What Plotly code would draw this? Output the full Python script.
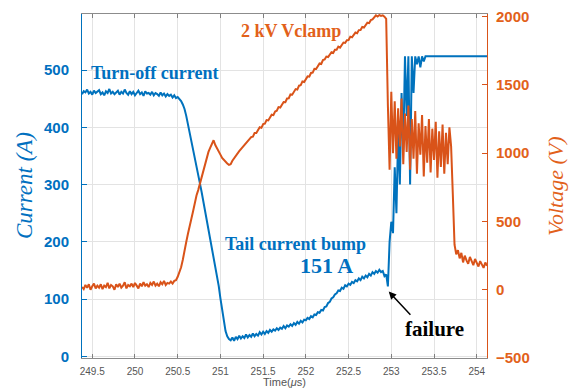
import numpy as np
import plotly.graph_objects as go

# Sampling grid: 249.38 us to 254.12 us, 20 ns step
t_start = 249.38
t_step = 0.02

# Collector current (A), left axis
current_a = [
    458, 463, 461, 466, 459, 462, 457, 464, 460, 462,
    465, 458, 461, 456, 463, 460, 467, 459, 462, 458,
    461, 464, 457, 462, 459, 466, 460, 457, 463, 458,
    462, 456, 460, 464, 458, 461, 455, 463, 459, 460,
    457, 462, 456, 460, 458, 455, 461, 456, 459, 454,
    458, 455, 457, 452, 456, 451, 453, 450, 446, 440,
    432, 420, 406, 392, 378, 363, 348, 333, 318, 302,
    287, 271, 255, 239, 223, 207, 191, 175, 159, 142,
    123, 101, 80, 60, 44, 35, 30, 28, 33, 27,
    34, 30, 36, 31, 35, 32, 38, 33, 37, 34,
    40, 35, 39, 36, 42, 38, 43, 39, 44, 41,
    46, 43, 47, 45, 49, 46, 50, 48, 53, 49,
    54, 52, 56, 53, 58, 55, 60, 57, 62, 59,
    64, 63, 67, 65, 70, 68, 73, 72, 77, 76,
    81, 80, 86, 87, 93, 95, 101, 103, 108, 110,
    115, 114, 120, 118, 124, 122, 127, 125, 130, 128,
    133, 131, 136, 133, 139, 136, 141, 138, 144, 141,
    147, 144, 149, 146, 151, 147, 149, 140, 143, 122,
    200, 235, 215, 330, 250, 390, 300, 460, 360, 524,
    420, 524, 300, 524, 460, 524, 510, 524, 505, 524,
    515, 524, 524, 524, 524, 524, 524, 524, 524, 524,
    524, 524, 524, 524, 524, 524, 524, 524, 524, 524,
    524, 524, 524, 524, 524, 524, 524, 524, 524, 524,
    524, 524, 524, 524, 524, 524, 524, 524,
]

# Clamp / collector-emitter voltage (V), right axis
voltage_v = [
    20, 5, 35, 15, 40, 0, 25, 45, 10, 30,
    15, 40, 5, 30, 20, 50, 10, 35, 25, 0,
    40, 20, 45, 15, 30, 55, 10, 35, 25, 45,
    20, 50, 30, 10, 45, 25, 55, 30, 40, 20,
    50, 35, 60, 30, 45, 25, 55, 40, 65, 35,
    50, 45, 60, 45, 65, 70, 95, 125, 165, 220,
    300, 350, 410, 480, 520, 575, 640, 690, 730, 780,
    820, 870, 920, 960, 1010, 1040, 1075, 1095, 1060, 1040,
    1010, 990, 965, 950, 935, 925, 915, 920, 945, 965,
    985, 1000, 1015, 1030, 1045, 1060, 1070, 1085, 1100, 1118,
    1122, 1148, 1148, 1171, 1190, 1186, 1213, 1217, 1243, 1240,
    1264, 1282, 1279, 1306, 1311, 1338, 1335, 1359, 1375, 1374,
    1401, 1403, 1431, 1429, 1452, 1470, 1466, 1495, 1498, 1526,
    1522, 1546, 1563, 1561, 1588, 1591, 1618, 1617, 1640, 1658,
    1654, 1682, 1687, 1708, 1705, 1726, 1740, 1735, 1758, 1758,
    1781, 1774, 1798, 1811, 1808, 1828, 1829, 1854, 1849, 1871,
    1884, 1879, 1902, 1903, 1925, 1921, 1943, 1956, 1953, 1975,
    1980, 1998, 2010, 2002, 2012, 2006, 2010, 2000, 1985, 1350,
    880, 1450, 1000, 1380, 960, 1330, 1050, 1400, 920, 1290,
    1010, 1350, 880, 1250, 960, 1310, 850, 1220, 990, 1280,
    830, 1200, 930, 1250, 860, 1180, 950, 1230, 820, 1160,
    900, 1210, 850, 1150, 920, 1190, 1050, 700, 330, 260,
    290, 230, 270, 200, 250, 215, 190, 240, 205, 180,
    225, 195, 170, 210, 185, 160, 200, 175,
]

time_us = np.round(t_start + t_step * np.arange(len(current_a)), 3)

x_ticks = [249.5, 250, 250.5, 251, 251.5, 252, 252.5, 253, 253.5, 254]
x_tick_text = ["249.5", "250", "250.5", "251", "251.5", "252", "252.5", "253", "253.5", "254"]
i_ticks = [0, 100, 200, 300, 400, 500]
v_ticks = [-500, 0, 500, 1000, 1500, 2000]

BLUE_LINE = "#0072BD"
ORANGE_LINE = "#D95319"
BLUE_TEXT = "#0070C0"
ORANGE_TEXT = "#E2611A"
SERIF = "Liberation Serif, Times New Roman, serif"
SANS = "Liberation Sans, Arial, sans-serif"

fig = go.Figure()
fig.add_trace(go.Scatter(x=time_us, y=voltage_v, yaxis="y2", mode="lines",
                         line=dict(color=ORANGE_LINE, width=2), name="Voltage"))
fig.add_trace(go.Scatter(x=time_us, y=current_a, yaxis="y", mode="lines",
                         line=dict(color=BLUE_LINE, width=2), name="Current"))

fig.update_layout(
    width=571, height=390,
    margin=dict(l=82, r=84, t=8, b=32),
    paper_bgcolor="white", plot_bgcolor="white",
    showlegend=False,
    xaxis=dict(
        range=[249.38, 254.12], tickvals=x_ticks, ticktext=x_tick_text,
        ticks="inside", ticklen=4, tickcolor="#7f7f7f",
        showline=True, linecolor="#8c8c8c", linewidth=1, mirror="ticks",
        showgrid=True, gridcolor="#e3e3e3", zeroline=False,
        tickfont=dict(family=SANS, size=10, color="#555555"),
        ticklabelstandoff=4,
    ),
    yaxis=dict(
        range=[-3, 598], tickvals=i_ticks,
        ticks="inside", ticklen=5, tickcolor=BLUE_LINE,
        showline=True, linecolor=BLUE_LINE, linewidth=1,
        showgrid=True, gridcolor="#e3e3e3", zeroline=False,
        tickfont=dict(family=SANS, size=15, color=BLUE_TEXT, weight="bold"),
        ticklabelstandoff=9,
    ),
    yaxis2=dict(
        range=[-500, 2020], tickvals=v_ticks, overlaying="y", side="right",
        ticks="inside", ticklen=5, tickcolor=ORANGE_LINE,
        showline=True, linecolor=ORANGE_LINE, linewidth=1,
        showgrid=False, zeroline=False,
        tickfont=dict(family=SANS, size=15, color=ORANGE_TEXT, weight="bold"),
        ticklabelstandoff=5,
    ),
)

# Axis titles
fig.add_annotation(text="<i>Current (A)</i>", xref="paper", yref="paper",
                   x=-0.143, y=0.5, xanchor="center", yanchor="middle",
                   textangle=-90, showarrow=False,
                   font=dict(family=SERIF, size=23, color=BLUE_TEXT))
fig.add_annotation(text="<i>Voltage (V)</i>", xref="paper", yref="paper",
                   x=1.168, y=0.5, xanchor="center", yanchor="middle",
                   textangle=-90, showarrow=False,
                   font=dict(family=SERIF, size=22, color=ORANGE_TEXT))
fig.add_annotation(text="Time(<i>\u03bc</i>s)", xref="paper", yref="paper",
                   x=0.501, y=-0.071, xanchor="center", yanchor="middle",
                   showarrow=False,
                   font=dict(family=SANS, size=11, color="#555555"))

# Callouts on the waveforms
fig.add_annotation(text="<b>Turn-off current</b>", x=250.24, y=495, xref="x", yref="y",
                   showarrow=False, font=dict(family=SERIF, size=18, color=BLUE_TEXT))
fig.add_annotation(text="<b>2 kV Vclamp</b>", x=251.83, y=569, xref="x", yref="y",
                   showarrow=False, font=dict(family=SERIF, size=18, color=ORANGE_TEXT))
fig.add_annotation(text="<b>Tail current bump</b>", x=251.88, y=196, xref="x", yref="y",
                   showarrow=False, font=dict(family=SERIF, size=18, color=BLUE_TEXT))
fig.add_annotation(text="<b>151 A</b>", x=252.24, y=158, xref="x", yref="y",
                   showarrow=False, font=dict(family=SERIF, size=22, color=BLUE_TEXT))
fig.add_annotation(text="<b>failure</b>", x=253.5, y=48, xref="x", yref="y",
                   showarrow=False, font=dict(family=SERIF, size=21, color="black"))
fig.add_annotation(text="", x=252.97, y=113, ax=253.24, ay=70,
                   xref="x", yref="y", axref="x", ayref="y",
                   showarrow=True, arrowhead=2, arrowsize=1, arrowwidth=1.5,
                   arrowcolor="black")

fig.write_html("out.html")
